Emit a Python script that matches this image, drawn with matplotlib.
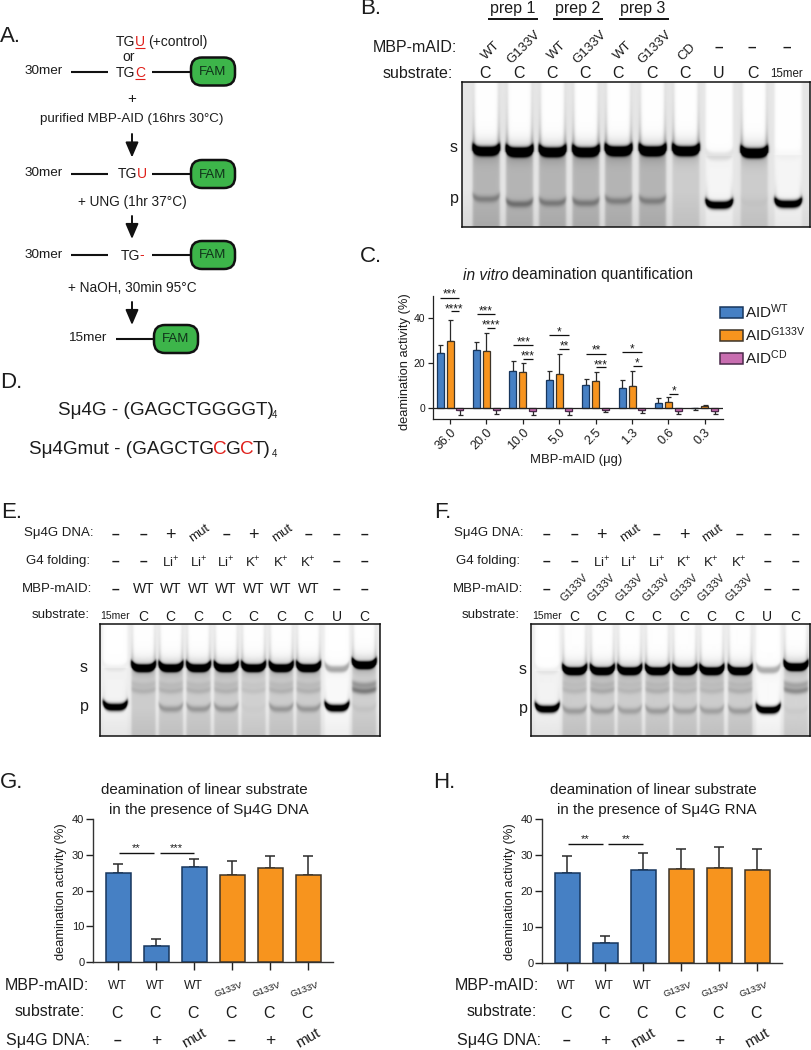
import numpy as np
import matplotlib
matplotlib.use("Agg")
import matplotlib.pyplot as plt
from matplotlib.patches import FancyBboxPatch, Rectangle, FancyArrowPatch

plt.rcParams['font.family'] = ['Liberation Sans', 'DejaVu Sans']
plt.rcParams['mathtext.fontset'] = 'custom'
plt.rcParams['mathtext.rm'] = 'Liberation Sans'
plt.rcParams['mathtext.default'] = 'regular'

INK = '#1c1c1c'
BLUE, ORANGE, PINK = '#4680C4', '#F7941E', '#C86DB0'
BLUE_E, ORANGE_E, PINK_E = '#17365D', '#3D3428', '#4A2A4A'
W, H = 811, 1050

# ---------- data ----------
doses = ['36.0', '20.0', '10.0', '5.0', '2.5', '1.3', '0.6', '0.3']
c_wt = [24.5, 25.8, 16.4, 12.4, 10.2, 8.8, 2.2, -0.3]
c_wt_err = [3.5, 3.7, 4.4, 4.1, 2.8, 3.5, 2.2, 0.8]
c_g133v = [29.8, 25.5, 16.0, 15.0, 12.0, 9.8, 2.7, 0.7]
c_g133v_err = [9.2, 7.8, 4.2, 9.0, 4.0, 6.7, 2.3, 0.4]
c_cd = [-1.2, -1.0, -1.4, -1.6, -0.8, -1.0, -1.3, -1.3]
c_cd_err = [1.8, 1.7, 1.6, 1.7, 1.2, 1.3, 1.5, 1.5]

g_values = [25.0, 4.5, 26.7, 24.5, 26.2, 24.5]
g_errors = [2.3, 2.0, 2.2, 3.7, 3.5, 5.2]
h_values = [24.9, 5.5, 26.0, 26.1, 26.4, 25.9]
h_errors = [4.9, 2.1, 4.7, 5.7, 5.7, 5.8]
bar_mbp = ['WT', 'WT', 'WT', 'G133V', 'G133V', 'G133V']
bar_sub = ['C', 'C', 'C', 'C', 'C', 'C']
bar_dna = ['-', '+', 'mut', '-', '+', 'mut']

# gel lanes: darkness of substrate band, darkness of product band, wash below s band
b_s = [1.3, 1.5, 1.4, 1.4, 1.5, 1.5, 1.5, 0.10, 1.5, 0.02]
b_p = [0.20, 0.26, 0.22, 0.22, 0.20, 0.20, 0.0, 1.5, 0.02, 1.5]
b_wash = [0.19, 0.19, 0.19, 0.19, 0.19, 0.19, 0.10, -0.06, 0.10, -0.06]
e_s = [0.05, 1.5, 1.5, 1.5, 1.5, 1.5, 1.5, 1.5, 0.3, 1.5]
e_p = [1.5, 0.0, 0.20, 0.20, 0.20, 0.02, 0.20, 0.20, 1.5, 0.04]
e_mid = [0.0, 0.10, 0.10, 0.10, 0.10, 0.06, 0.10, 0.10, 0.0, 0.32]
e_wash = [-0.02, 0.13, 0.13, 0.13, 0.13, 0.11, 0.13, 0.13, -0.05, 0.12]
f_s = [0.05, 1.5, 1.5, 1.5, 1.5, 1.5, 1.5, 1.5, 0.28, 1.5]
f_p = [1.5, 0.18, 0.18, 0.16, 0.18, 0.16, 0.16, 0.18, 1.5, 0.03]
f_mid = [0.0, 0.08, 0.13, 0.08, 0.11, 0.08, 0.08, 0.11, 0.0, 0.27]
f_wash = [-0.02, 0.13, 0.13, 0.13, 0.13, 0.13, 0.13, 0.13, -0.05, 0.10]

fig = plt.figure(figsize=(W / 100, H / 100), dpi=100, facecolor='white')
ov = fig.add_axes([0, 0, 1, 1], zorder=10, facecolor='none')
ov.set_xlim(0, W); ov.set_ylim(H, 0); ov.axis('off')
rend = fig.canvas.get_renderer()


def T(x, y, s, size=9.5, ha='center', va='center', color=INK, rot=0, **kw):
    return ov.text(x, y, s, fontsize=size, ha=ha, va=va, color=color, rotation=rot,
                   rotation_mode='anchor', **kw)


def chain(x, y, parts, size=9.5):
    """Write coloured runs of text one after another; returns span of each run."""
    spans = []
    for s, col in parts:
        t = T(x, y, s, size=size, ha='left', va='baseline', color=col)
        w = t.get_window_extent(rend).width
        spans.append((x, x + w))
        x += w - size * 0.06
    return spans


def axes_px(l, r, top, bottom, **kw):
    return fig.add_axes([l / W, 1 - bottom / H, (r - l) / W, (bottom - top) / H], **kw)


def line(x0, x1, y, lw=1.3, color=INK):
    ov.plot([x0, x1], [y, y], color=color, lw=lw, solid_capstyle='butt')


# ---------- panel letters ----------
for s, x, y in [('A.', 0, 36), ('B.', 360, 9), ('C.', 360, 257), ('D.', 0, 383),
                ('E.', 1, 512), ('F.', 434, 512), ('G.', 0, 783), ('H.', 433, 783)]:
    T(x, y, s, size=16, ha='left')


# ---------- panel A ----------
def fam(x0, x1, yc):
    ov.add_patch(FancyBboxPatch((x0 + 12, yc - 3), x1 - x0 - 24, 6,
                                boxstyle='round,pad=11,rounding_size=11', fc='#3DB54A',
                                ec='#111111', lw=1.8))
    T((x0 + x1) / 2, yc + 0.5, 'FAM', size=9.5, color='#10321a')


def arrow(x, y0, y1):
    ov.add_patch(FancyArrowPatch((x, y0), (x, y1), arrowstyle='-|>,head_length=0.7,head_width=0.3',
                                 mutation_scale=13, lw=1.4, color='#111111', shrinkA=0, shrinkB=0))


RED = '#E0201B'
sp = chain(116, 46, [('TG', INK), ('U', RED)], size=10)
line(sp[1][0], sp[1][1], 47.6, lw=0.8, color=RED)
T(148, 46, '(+control)', size=10, ha='left', va='baseline')
T(129, 57, 'or', size=10)
sp = chain(116, 77, [('TG', INK), ('C', RED)], size=10)
line(sp[1][0], sp[1][1], 78.6, lw=0.8, color=RED)
T(132, 98.5, '+', size=11)
T(132, 119, 'purified MBP-AID (16hrs 30°C)', size=9.6)
for yy, tg in [(71.5, None), (174, 'TGU'), (255, 'TG-')]:
    T(25, yy - 0.5, '30mer', size=9.7, ha='left')
    line(70.5, 108, yy, lw=1.5, color='#111111')
    line(152, 190, yy, lw=1.5, color='#111111')
    fam(190, 236, yy)
chain(118, 178, [('TG', INK), ('U', RED)], size=10)
chain(120.5, 259.5, [('TG', INK), ('-', RED)], size=10)
T(132, 202, '+ UNG (1hr 37°C)', size=9.8)
T(132, 288.5, '+ NaOH, 30min 95°C', size=9.8)
arrow(132, 134, 157.5)
arrow(132, 216, 239)
arrow(132, 302, 325)
T(68, 338, '15mer', size=9.7, ha='left')
line(115.5, 153, 339, lw=1.5, color='#111111')
fam(153, 199, 339)

# ---------- panel D ----------
chain(58, 415, [('Sμ4G - (GAGCTGGGGT)', INK)], size=13.6)
T(272, 418, '4', size=7, ha='left', va='baseline')
chain(29, 454, [('Sμ4Gmut - (GAGCTG', INK), ('C', RED), ('G', INK), ('C', RED), ('T)', INK)], size=13.6)
T(272, 457, '4', size=7, ha='left', va='baseline')


# ---------- gels ----------
def render_gel(box, xs, hw, s_d, p_d, wash, s_y, p_y, mid=None, mid_ys=(), s_ys=None, p_ys=None,
               base=0.10, arm=0.45, curve=4.0, s_t=3.6, p_t=3.2):
    x0, x1, y0, y1 = box
    X, Y = np.meshgrid(np.arange(x0, x1, 0.5), np.arange(y0, y1, 0.5))
    D = np.full(X.shape, base) + 0.05 * np.clip((Y - (y0 + 0.75 * (y1 - y0))) / (y1 - y0) * 4, 0, 1)
    for i, xc in enumerate(xs):
        u = np.abs((X - xc) / hw)
        ins = 0.5 * (np.tanh((1.08 - u) * 9) + 1)
        sy = s_ys[i] if s_ys else s_y
        py = p_ys[i] if p_ys else p_y
        above = Y < sy
        edge = np.exp(-((1.08 - np.minimum(u, 1.08)) / 0.2) ** 2)
        # clear lane above the s band, washed below it
        D += ins * np.where(above, -base * 0.95, wash[i])
        if s_d[i] > 0.5:
            D += ins * above * edge * arm * (0.22 + 0.78 * np.exp((Y - sy) / 20))
            D += ins * above * 0.18 * np.exp((Y - sy) / 7)
        y_s = sy - curve * np.minimum(u, 1.1) ** 4
        D += s_d[i] * ins * np.exp(-np.abs((Y - y_s) / s_t) ** 2.6)
        D += 0.09 * s_d[i] * ins * np.exp(-np.abs((Y - y_s) / (s_t * 2.4)) ** 2)
        y_p = py - curve * np.minimum(u, 1.1) ** 4
        D += p_d[i] * ins * np.exp(-np.abs((Y - y_p) / p_t) ** 2)
        if p_d[i] > 0.5:  # strong product: clear above, arms up the lane edge
            D += ins * (Y < y_p) * (Y > sy) * arm * 0.8 * edge * np.exp((Y - py) / 9)
        if mid is not None:
            for k, my in enumerate(mid_ys):
                D += mid[i] * (1 - 0.35 * k) * ins * np.exp(-((Y - my + 2 * u ** 2) / 3.2) ** 2)
    ax = axes_px(x0, x1, y0, y1)
    ax.imshow(1 - np.clip(D, 0, 1), cmap='gray', vmin=0, vmax=1, aspect='auto',
              interpolation='bilinear', extent=(x0, x1, y1, y0))
    ax.set_xticks([]); ax.set_yticks([])
    for sp_ in ax.spines.values():
        sp_.set_linewidth(1.1); sp_.set_color('#111111')
    return ax


# panel B
b_x = [486, 519.3, 552.3, 585.7, 618.3, 652.3, 685.7, 719, 754, 788]
render_gel((462, 810, 82, 227), b_x, 12.5, b_s, b_p, b_wash, 151, 200,
           s_ys=[151, 152, 152, 152, 151, 151, 151, 156, 153, 155],
           p_ys=[199, 204, 203, 203, 201, 201, 203, 205, 203, 204], base=0.10, curve=3.0, s_t=4.6, p_t=3.6)
for s, xc, l0, l1 in [('prep 1', 513, 487.7, 538.3), ('prep 2', 578, 553.3, 603.3), ('prep 3', 643, 619.3, 669.3)]:
    T(xc, 9, s, size=11.5)
    line(l0, l1, 19, lw=1.4, color='#111111')
T(457, 48, 'MBP-mAID:', size=11.5, ha='right')
T(453, 73, 'substrate:', size=11.5, ha='right')
for s, x, y in [('WT', 491, 51), ('G133V', 524, 47), ('WT', 557, 51), ('G133V', 590, 47),
                ('WT', 623, 51), ('G133V', 655, 47), ('CD', 687, 52)]:
    T(x, y, s, size=9.5, rot=45)
for x in [719, 752, 787]:
    T(x, 47.5, '–', size=11, fontweight='bold')
for x, s in zip(b_x[:-1], list('CCCCCCCUC')):
    T(x - 0.5, 73, s, size=11.5)
T(787, 74, '15mer', size=8.3)
T(454, 147, 's', size=11.5)
T(454, 198, 'p', size=11.5)

# panel E / F
row_dna = ['-', '-', '+', 'mut', '-', '+', 'mut', '-', '-', '-']
row_g4 = ['-', '-', 'Li', 'Li', 'Li', 'K', 'K', 'K', '-', '-']
row_sub = ['15mer', 'C', 'C', 'C', 'C', 'C', 'C', 'C', 'U', 'C']


def gel_panel(xs, box, rights, mbp_row, s_d, p_d, mid, wash, s_ys, p_ys):
    render_gel(box, xs, 11.2, s_d, p_d, wash, 669, 709, mid=mid, mid_ys=(691, 685), s_ys=s_ys, p_ys=p_ys,
               base=0.07, arm=0.26, curve=3.5, s_t=3.6, p_t=3.4)
    for lab, yy, r in zip(['Sμ4G DNA:', 'G4 folding:', 'MBP-mAID:', 'substrate:'], [533, 561, 589, 615], rights):
        T(r, yy, lab, size=9.5, ha='right')
    for x, s in zip(xs, row_dna):
        if s == 'mut':
            T(x + 1, 533, s, size=9.5, rot=35)
        elif s == '+':
            T(x, 535, s, size=13)
        else:
            T(x, 535, '–', size=10, fontweight='bold')
    for x, s in zip(xs, row_g4):
        if s == '-':
            T(x, 562, '–', size=10, fontweight='bold')
        else:
            T(x, 563, s + '$^{+}$', size=9.5)
    for x, s in zip(xs, mbp_row):
        if s == '-':
            T(x, 590, '–', size=10, fontweight='bold')
        elif s == 'WT':
            T(x, 589, s, size=10)
        else:
            T(x + 0, 588, s, size=7.8, rot=45)
    for x, s in zip(xs, row_sub):
        if s == '15mer':
            T(x, 616, s, size=7.5)
        else:
            T(x, 617, s, size=10)


e_x = [115, 143.3, 170.7, 198.3, 226, 253.3, 281, 308.3, 336.7, 364]
gel_panel(e_x, (100, 380, 624, 735.7), [93, 90, 92, 90], ['-'] + ['WT'] * 7 + ['-', '-'],
          e_s, e_p, e_mid, e_wash, [668] * 8 + [669, 665], [707] + [709] * 7 + [708, 709])
T(84, 668, 's', size=11.5); T(84, 707, 'p', size=11.5)

f_x = [546.7, 574, 601.7, 629, 656.7, 684, 711, 739.3, 767.3, 795]
gel_panel(f_x, (530.7, 810, 624, 735.7), [524, 520, 522.7, 520], ['-'] + ['G133V'] * 7 + ['-', '-'],
          f_s, f_p, f_mid, f_wash, [671] * 8 + [670, 667], [709] + [711] * 7 + [710, 711])
T(523, 669, 's', size=11.5); T(523, 709, 'p', size=11.5)

# ---------- panel C ----------
ax = axes_px(433, 723, 295.7, 419)
sc = 36.4
ax.set_xlim(-17 / sc, 273 / sc); ax.set_ylim(-5, 50)
xpos = np.arange(len(doses))
bw = 7 / sc
for off, vals, errs, fc, ec in [(-10 / sc, c_wt, c_wt_err, BLUE, BLUE_E),
                                (0, c_g133v, c_g133v_err, ORANGE, ORANGE_E),
                                (9.7 / sc, c_cd, c_cd_err, PINK, PINK_E)]:
    v = np.array(vals); e = np.array(errs)
    ax.bar(xpos + off, v, bw, color=fc, edgecolor=ec, linewidth=0.9, zorder=3)
    ax.errorbar(xpos + off, v, yerr=[np.where(v < 0, e, 0), np.where(v >= 0, e, 0)], fmt='none',
                ecolor='#2a2a2a', elinewidth=0.9, capsize=1.8, capthick=0.9, zorder=2)
ax.axhline(0, color='#222222', lw=0.9, zorder=4)
ax.set_xticks(xpos); ax.set_xticklabels(doses, rotation=45, ha='right', rotation_mode='anchor', fontsize=9, color=INK)
ax.set_yticks([0, 20, 40]); ax.set_yticklabels(['0', '20', '40'], fontsize=7.5, color=INK)
ax.tick_params(axis='both', length=3.5, width=0.9, color='#222222', pad=2)
for s_ in ['top', 'right']:
    ax.spines[s_].set_visible(False)
for s_ in ['left', 'bottom']:
    ax.spines[s_].set_linewidth(0.9); ax.spines[s_].set_color('#222222')
T(405, 361.5, 'deamination activity (%)', size=9.3, rot=90)
T(575.7, 460.5, 'MBP-mAID (μg)', size=9.4)
T(463, 275, 'in vitro', size=11.2, ha='left', style='italic')
T(511.5, 275, 'deamination quantification', size=11.2, ha='left')

for x0, x1, y, stars, xs_, ys_ in [
        (180, 238, 98, '***', 208, 85), (212, 238, 139, '****', 222, 128),
        (290, 346, 147, '***', 318, 135), (320, 346, 188, '****', 333, 178),
        (400, 458, 240, '***', 430, 228), (430, 458, 281, '***', 443, 271),
        (508, 566, 210, '*', 538, 198), (538, 566, 252, '**', 552, 241),
        (618, 677, 266, '**', 648, 253), (648, 677, 307, '***', 662, 296),
        (727, 786, 261, '*', 756, 249), (758, 786, 302, '*', 771, 291),
        (866, 895, 386, '*', 881, 375)]:
    line(x0 / 3 + 380, x1 / 3 + 380, y / 3 + 265, lw=0.9, color='#111111')
    T(xs_ / 3 + 380, ys_ / 3 + 265 + 1.6, stars, size=8.5)

for yy, fc, ec, lab in [(307, BLUE, BLUE_E, r'AID$^{WT}$'),
                        (329.5, ORANGE, ORANGE_E, r'AID$^{G133V}$'),
                        (352.5, PINK, PINK_E, r'AID$^{CD}$')]:
    ov.add_patch(Rectangle((719.5, yy), 23, 11, fc=fc, ec=ec, lw=1.1))
    T(745, yy + 5, lab, size=11, ha='left')


# ---------- panels G / H ----------
def bar_panel(l, r, y40, y0, first, values, errors, title_lines, brackets, rights, ylab_x):
    spacing = 38
    ax = axes_px(l, r, y40, y0)
    ax.set_xlim((l - first) / spacing, (r - first) / spacing); ax.set_ylim(0, 40)
    xp = np.arange(len(values))
    cols = [BLUE] * 3 + [ORANGE] * 3
    edges = [BLUE_E] * 3 + [ORANGE_E] * 3
    ax.errorbar(xp, values, yerr=[np.zeros(6), errors], fmt='none', ecolor='#2a2a2a',
                elinewidth=1.1, capsize=3.7, capthick=1.1, zorder=2)
    ax.bar(xp, values, 25 / spacing, color=cols, edgecolor=edges, linewidth=1.1, zorder=3)
    ax.set_xticks(xp); ax.set_xticklabels([])
    ax.set_yticks([0, 10, 20, 30, 40])
    ax.tick_params(axis='y', length=5, width=1, color='#222222', pad=1.5, labelsize=8, labelcolor=INK)
    ax.tick_params(axis='x', length=6, width=1, color='#222222')
    for s_ in ['top', 'right']:
        ax.spines[s_].set_visible(False)
    for s_ in ['left', 'bottom']:
        ax.spines[s_].set_linewidth(1); ax.spines[s_].set_color('#333333')
    T(ylab_x, 891.5, 'deamination activity (%)', size=9.3, rot=90)
    for (tx, ty), s in title_lines:
        T(tx, ty, s, size=10.9)
    for x0, x1, y, stars in brackets:
        line(x0, x1, y, lw=1.0, color='#111111')
        T((x0 + x1) / 2, y - 4.2, stars, size=8)
    xs = [first + spacing * i - 1 for i in range(6)]
    T(rights[0], 985, 'MBP-mAID:', size=11.5, ha='right')
    T(rights[1], 1012, 'substrate:', size=11.5, ha='right')
    T(rights[2], 1040, 'Sμ4G DNA:', size=11.5, ha='right')
    for x, s in zip(xs, bar_mbp):
        if s == 'WT':
            T(x, 986, s, size=8.7)
        else:
            T(x - 3, 990, s, size=6.8, rot=20)
    for x, s in zip(xs, bar_sub):
        T(x, 1013, s, size=11.5)
    for x, s in zip(xs, bar_dna):
        if s == 'mut':
            T(x + 1, 1038, s, size=11, rot=30)
        elif s == '+':
            T(x + 0.5, 1041, s, size=12.5)
        else:
            T(x, 1041, '–', size=10, fontweight='bold')


bar_panel(93.3, 333, 819, 962.3, 118.3, g_values, g_errors,
          [((204, 790), 'deamination of linear substrate'), ((209, 810), 'in the presence of Sμ4G DNA')],
          [(119, 154, 852.7, '**'), (159.5, 194, 852.7, '***')], (89, 85, 90), 61)
bar_panel(542.3, 782.3, 819, 963.3, 567.3, h_values, h_errors,
          [((653, 790), 'deamination of linear substrate'), ((657, 810), 'in the presence of Sμ4G RNA')],
          [(567.7, 602.7, 843.7, '**'), (608.3, 643.3, 843.7, '**')], (539.3, 536.7, 541), 510)

fig.savefig('out.png', dpi=100, facecolor='white')
